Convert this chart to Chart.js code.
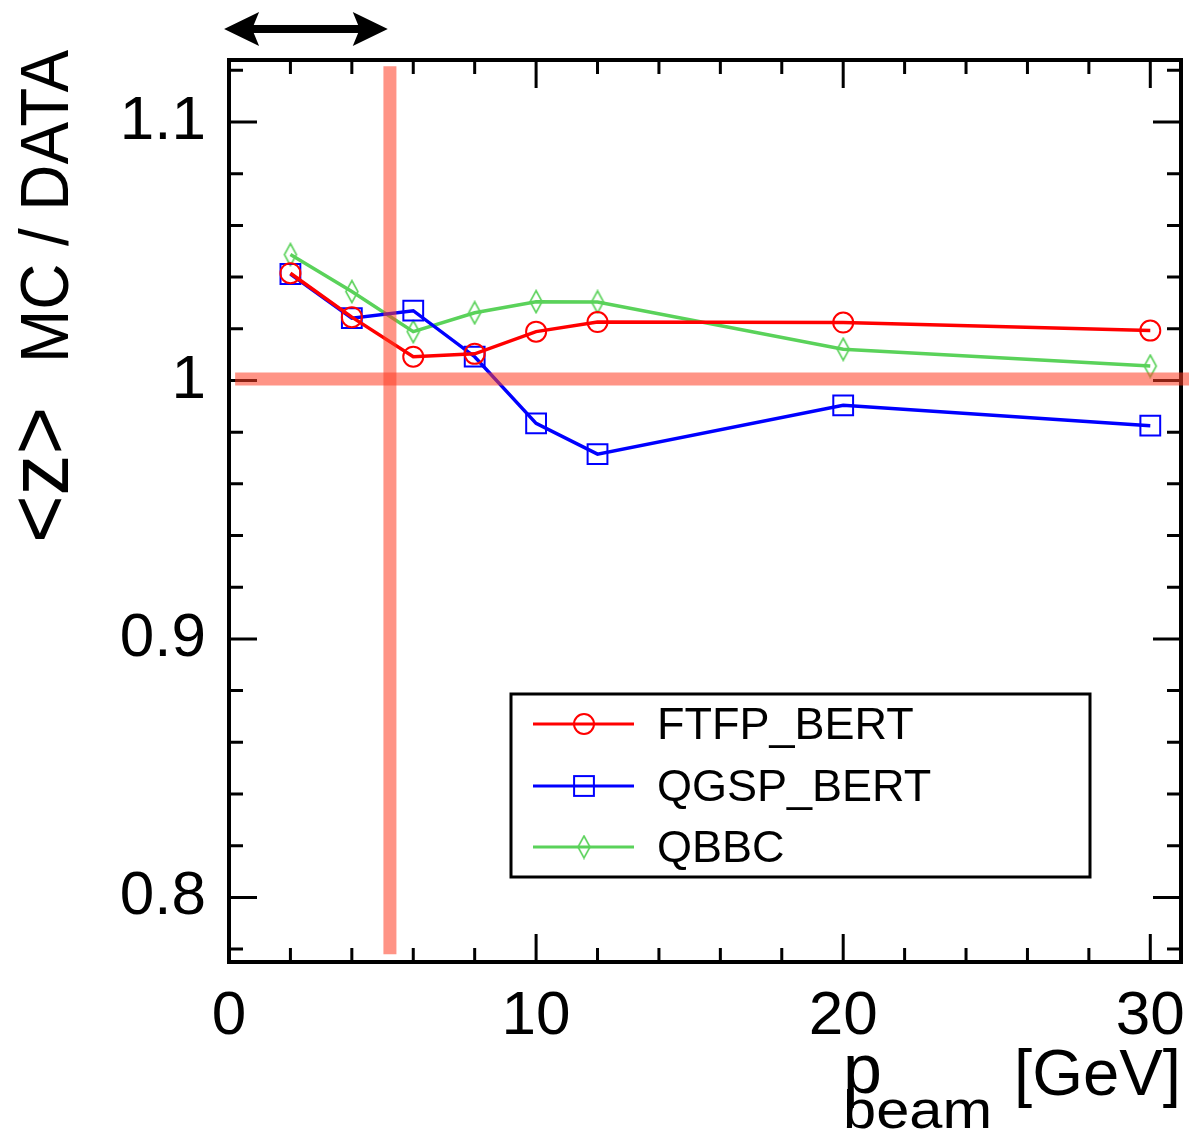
<!DOCTYPE html>
<html>
<head>
<meta charset="utf-8">
<title>MC / DATA vs p_beam</title>
<script src="https://cdn.jsdelivr.net/npm/chart.js@4.4.1/dist/chart.umd.min.js"></script>
<style>
  body { margin: 0; background: #fff; }
  canvas { display: block; }
</style>
</head>
<body>
<canvas id="zChart" width="1189" height="1133"></canvas>
<script>
// beam momentum points [GeV]
const P_BEAM = [2, 4, 6, 8, 10, 12, 20, 30];
// <z> MC / DATA for each physics list
const FTFP_BERT = [1.0415, 1.0245, 1.0092, 1.0103, 1.0189, 1.0226, 1.0224, 1.0193];
const QGSP_BERT = [1.0412, 1.0241, 1.0270, 1.0092, 0.9834, 0.9715, 0.9904, 0.9825];
const QBBC = [1.0487, 1.0344, 1.0189, 1.0262, 1.0305, 1.0304, 1.0121, 1.0056];
const SERIES_NAMES = ['FTFP_BERT', 'QGSP_BERT', 'QBBC'];

// axis ranges and tick steps
const X_RANGE = [0, 31];
const Y_RANGE = [0.775, 1.124];
const X_MAJOR = 10, X_MINOR = 2;
const Y_MAJOR = 0.1, Y_MINOR = 0.02;

// the salmon guide lines and the range arrow (data units)
const CUT_X = 5.24;
const CUT_Y = [0.778, 1.1216];
const UNITY_Y = 1.0006;
const UNITY_X0 = 0.2;
const ARROW_X = [-0.16, 5.17];
const ARROW_Y = 1.136;

const FONT = "'Liberation Sans', Arial, Helvetica, sans-serif";
const GUIDE_COLOR = 'rgba(255, 60, 35, 0.55)';

// narrow open diamond for QBBC
function makeDiamond(color) {
    const c = document.createElement('canvas');
    c.width = 16;
    c.height = 25;
    const g = c.getContext('2d');
    g.strokeStyle = color;
    g.lineWidth = 1.6;
    g.beginPath();
    g.moveTo(8, 1.5);
    g.lineTo(14, 12.5);
    g.lineTo(8, 23.5);
    g.lineTo(2, 12.5);
    g.closePath();
    g.stroke();
    return c;
}

function toPoints(ys) {
    return P_BEAM.map((x, i) => ({x: x, y: ys[i]}));
}

function fitText(ctx, str, x, y, size, width, align) {
    ctx.font = size + 'px ' + FONT;
    const w = ctx.measureText(str).width;
    const s = width ? width / w : 1;
    ctx.save();
    ctx.translate(x, y);
    ctx.scale(s, 1);
    ctx.textAlign = align;
    ctx.textBaseline = 'alphabetic';
    ctx.fillText(str, 0, 0);
    ctx.restore();
}

function drawMarker(ctx, ds, x, y) {
    const style = ds.pointStyle;
    ctx.save();
    ctx.strokeStyle = ds.pointBorderColor;
    ctx.lineWidth = ds.pointBorderWidth;
    if (style instanceof HTMLCanvasElement) {
        ctx.drawImage(style, x - style.width / 2, y - style.height / 2);
    } else if (style === 'rect') {
        const h = Math.SQRT1_2 * ds.pointRadius;
        ctx.strokeRect(x - h, y - h, 2 * h, 2 * h);
    } else {
        ctx.beginPath();
        ctx.arc(x, y, ds.pointRadius, 0, Math.PI * 2);
        ctx.stroke();
    }
    ctx.restore();
}

const frameAndExtras = {
    id: 'frameAndExtras',
    afterDatasetsDraw(chart) {
        const {ctx, chartArea: a, scales: {x, y}} = chart;
        ctx.save();

        // frame
        ctx.strokeStyle = '#000';
        ctx.lineWidth = 4;
        ctx.strokeRect(a.left, a.top, a.right - a.left, a.bottom - a.top);

        // inward ticks on all four sides
        ctx.lineWidth = 3;
        ctx.beginPath();
        for (let i = Math.ceil(X_RANGE[0] / X_MINOR); i * X_MINOR <= X_RANGE[1]; i++) {
            const v = i * X_MINOR;
            const len = (v % X_MAJOR === 0) ? 28 : 14;
            const px = x.getPixelForValue(v);
            ctx.moveTo(px, a.bottom); ctx.lineTo(px, a.bottom - len);
            ctx.moveTo(px, a.top); ctx.lineTo(px, a.top + len);
        }
        const perMajor = Math.round(Y_MAJOR / Y_MINOR);
        for (let k = Math.ceil(Y_RANGE[0] / Y_MINOR - 1e-6); k * Y_MINOR <= Y_RANGE[1] + 1e-9; k++) {
            const len = (k % perMajor === 0) ? 28 : 14;
            const py = y.getPixelForValue(k * Y_MINOR);
            ctx.moveTo(a.left, py); ctx.lineTo(a.left + len, py);
            ctx.moveTo(a.right, py); ctx.lineTo(a.right - len, py);
        }
        ctx.stroke();

        // guide lines, semi transparent, on top
        ctx.strokeStyle = GUIDE_COLOR;
        ctx.lineWidth = 13;
        ctx.lineCap = 'butt';
        ctx.beginPath();
        const cx = x.getPixelForValue(CUT_X);
        ctx.moveTo(cx, y.getPixelForValue(CUT_Y[1]));
        ctx.lineTo(cx, y.getPixelForValue(CUT_Y[0]));
        ctx.stroke();
        ctx.beginPath();
        const uy = y.getPixelForValue(UNITY_Y);
        ctx.moveTo(x.getPixelForValue(UNITY_X0), uy);
        ctx.lineTo(chart.width, uy);
        ctx.stroke();

        // double arrow above the frame
        const ax0 = x.getPixelForValue(ARROW_X[0]);
        const ax1 = x.getPixelForValue(ARROW_X[1]);
        const ay = y.getPixelForValue(ARROW_Y);
        ctx.fillStyle = '#000';
        ctx.fillRect(ax0 + 25, ay - 4, ax1 - ax0 - 50, 8);
        [[ax0, 1], [ax1, -1]].forEach(([tip, dir]) => {
            ctx.beginPath();
            ctx.moveTo(tip, ay);
            ctx.lineTo(tip + dir * 35, ay - 17);
            ctx.lineTo(tip + dir * 28, ay);
            ctx.lineTo(tip + dir * 35, ay + 17);
            ctx.closePath();
            ctx.fill();
        });

        // axis titles
        ctx.fillStyle = '#000';
        ctx.save();
        ctx.translate(68, 543);
        ctx.rotate(-Math.PI / 2);
        fitText(ctx, '<z>', 0, 0, 86, 136, 'left');
        fitText(ctx, 'MC / DATA', 180, 0, 68, 313, 'left');
        ctx.restore();

        fitText(ctx, 'p', 843, 1093, 70, 0, 'left');
        fitText(ctx, 'beam', 843, 1128, 54, 149, 'left');
        fitText(ctx, '[GeV]', 1181, 1095, 64, 167, 'right');

        // legend box
        const box = {left: 511, top: 694, right: 1090, bottom: 877};
        ctx.strokeStyle = '#000';
        ctx.lineWidth = 3;
        ctx.strokeRect(box.left, box.top, box.right - box.left, box.bottom - box.top);
        const rows = [724, 786, 847];
        chart.data.datasets.forEach((ds, i) => {
            const ry = rows[i];
            ctx.strokeStyle = ds.borderColor;
            ctx.lineWidth = 3;
            ctx.beginPath();
            ctx.moveTo(533, ry);
            ctx.lineTo(634, ry);
            ctx.stroke();
            drawMarker(ctx, ds, 584, ry);
            ctx.fillStyle = '#000';
            ctx.font = '45px ' + FONT;
            ctx.textAlign = 'left';
            ctx.textBaseline = 'alphabetic';
            ctx.fillText(ds.label, 657, ry + 15);
        });

        ctx.restore();
    }
};

const seriesValues = [FTFP_BERT, QGSP_BERT, QBBC];
const seriesColors = ['#ff0000', '#0000ff', '#5ad25a'];
const seriesStyles = ['circle', 'rect', makeDiamond('#5ad25a')];
const seriesRadius = [10, 14, 10];

const datasets = SERIES_NAMES.map((name, i) => ({
    label: name,
    data: toPoints(seriesValues[i]),
    showLine: true,
    borderColor: seriesColors[i],
    borderWidth: 3.5,
    tension: 0,
    pointStyle: seriesStyles[i],
    pointRadius: seriesRadius[i],
    pointHoverRadius: seriesRadius[i],
    pointBorderWidth: 2,
    pointBorderColor: seriesColors[i],
    pointBackgroundColor: 'rgba(0,0,0,0)'
}));

const config = {
    type: 'scatter',
    data: {datasets: datasets},
    options: {
        responsive: false,
        animation: false,
        devicePixelRatio: 1,
        layout: {autoPadding: false, padding: {top: 60, right: 8, left: 0, bottom: 0}},
        plugins: {
            legend: {display: false},
            tooltip: {enabled: false}
        },
        scales: {
            x: {
                type: 'linear',
                min: X_RANGE[0],
                max: X_RANGE[1],
                grid: {display: false, drawTicks: false},
                border: {display: false},
                ticks: {
                    stepSize: X_MAJOR,
                    includeBounds: false,
                    autoSkip: false,
                    maxRotation: 0,
                    padding: 18,
                    color: '#000',
                    font: {family: FONT, size: 62}
                },
                afterFit(scale) {
                    scale.height = 171;
                    scale.paddingLeft = 0;
                    scale.paddingRight = 0;
                }
            },
            y: {
                type: 'linear',
                min: Y_RANGE[0],
                max: Y_RANGE[1],
                grid: {display: false, drawTicks: false},
                border: {display: false},
                ticks: {
                    stepSize: Y_MAJOR,
                    includeBounds: false,
                    autoSkip: false,
                    padding: 23,
                    color: '#000',
                    font: {family: FONT, size: 62},
                    callback: (v) => String(+v.toFixed(2))
                },
                afterFit(scale) {
                    scale.width = 229;
                    scale.paddingTop = 0;
                    scale.paddingBottom = 0;
                }
            }
        }
    },
    plugins: [frameAndExtras]
};

const zChart = new Chart(document.getElementById('zChart'), config);
</script>
</body>
</html>
